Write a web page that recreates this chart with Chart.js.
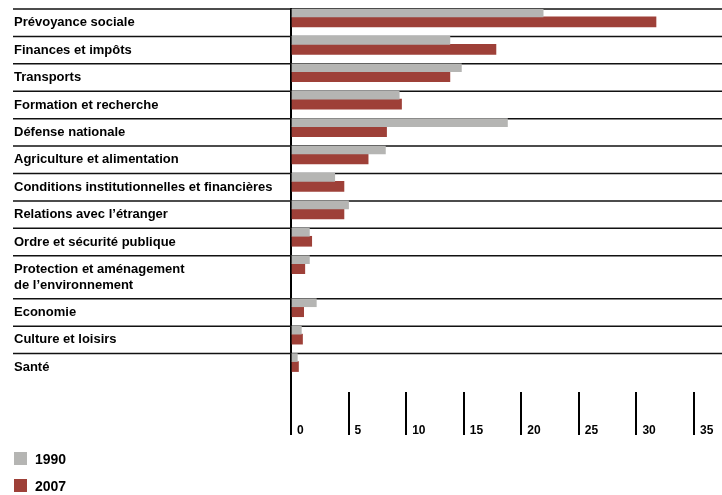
<!DOCTYPE html>
<html>
<head>
<meta charset="utf-8">
<script src="https://cdn.jsdelivr.net/npm/chart.js@4.4.1/dist/chart.umd.min.js"></script>
<style>
    html, body { margin: 0; padding: 0; background: #fff; }
    #wrap { position: relative; width: 722px; height: 495px; }
    #legend { position: absolute; left: 14px; top: 445px; font: bold 14px "Liberation Sans Narrow", "Liberation Sans", sans-serif; color: #000; }
    #legend div { height: 27px; display: flex; align-items: center; }
    #legend span.box { display: inline-block; width: 13px; height: 13px; margin-right: 8px; }
</style>
</head>
<body>
<div id="wrap">
    <canvas id="chartBudget" width="722" height="495"></canvas>
    <div id="legend"></div>
</div>
<script>
const categories = [
    'Prévoyance sociale',
    'Finances et impôts',
    'Transports',
    'Formation et recherche',
    'Défense nationale',
    'Agriculture et alimentation',
    'Conditions institutionnelles et financières',
    'Relations avec l’étranger',
    'Ordre et sécurité publique',
    ['Protection et aménagement', 'de l’environnement'],
    'Economie',
    'Culture et loisirs',
    'Santé'
];
const years = ['1990', '2007'];
const values1990 = [21.9, 13.8, 14.8, 9.4, 18.8, 8.2, 3.8, 5.0, 1.6, 1.6, 2.2, 0.9, 0.55];
const values2007 = [31.7, 17.8, 13.8, 9.6, 8.3, 6.7, 4.6, 4.6, 1.8, 1.2, 1.1, 1.0, 0.65];
const xTicks = [0, 5, 10, 15, 20, 25, 30, 35];

const GREY = '#b5b5b3';
const RED = '#9e4038';
const FONT = '"Liberation Sans Narrow", "Liberation Sans", sans-serif';

// category scale whose rows grow with the number of label lines
class RowScale extends Chart.CategoryScale {
    rows() {
        const weights = this.getLabels().map(l => Array.isArray(l) ? 1 + 0.57 * (l.length - 1) : 1);
        const total = weights.reduce((a, b) => a + b, 0) + 0.4;
        const unit = (this.bottom - this.top) / total;
        let y = this.top;
        return weights.map(w => {
            const r = { top: y, height: w * unit, unit: unit };
            y += w * unit;
            return r;
        });
    }
    getPixelForValue(value) {
        if (typeof value !== 'number') value = this.parse(value);
        const r = this.rows()[value];
        return r ? r.top + r.unit * 0.29 : NaN;
    }
    getPixelForTick(index) {
        const r = this.rows()[this.ticks[index].value];
        return r.top + r.height / 2;
    }
}
RowScale.id = 'rows';
RowScale.defaults = Chart.CategoryScale.defaults;
Chart.register(RowScale);

// horizontal separators running under the labels and across the plot
const rowLines = {
    id: 'rowLines',
    beforeDatasetsDraw(chart) {
        const ctx = chart.ctx;
        const rows = chart.scales.y.rows();
        ctx.save();
        ctx.strokeStyle = '#111';
        ctx.lineWidth = 1.5;
        rows.forEach(r => {
            ctx.beginPath();
            ctx.moveTo(13, r.top);
            ctx.lineTo(chart.width, r.top);
            ctx.stroke();
        });
        ctx.restore();
    }
};

const ctxBudget = document.getElementById('chartBudget').getContext('2d');
const budgetChart = new Chart(ctxBudget, {
    type: 'bar',
    data: {
        labels: categories,
        datasets: [{
            label: years[0],
            data: values1990,
            backgroundColor: GREY,
            barThickness: 8
        }, {
            label: years[1],
            data: values2007,
            backgroundColor: RED,
            barThickness: 10
        }]
    },
    options: {
        indexAxis: 'y',
        responsive: false,
        animation: false,
        events: [],
        layout: { padding: { left: 14, top: 9, right: 28, bottom: 0 } },
        plugins: {
            legend: { display: false },
            tooltip: { enabled: false }
        },
        scales: {
            x: {
                min: 0,
                max: 35,
                afterBuildTicks(scale) {
                    scale.ticks = xTicks.map(v => ({ value: v }));
                },
                ticks: {
                    align: 'start',
                    labelOffset: 6,
                    padding: -12,
                    color: '#000',
                    font: { family: FONT, size: 12, weight: 'bold' }
                },
                grid: { drawOnChartArea: false, drawTicks: true, tickLength: 43, color: '#000', lineWidth: 2 },
                border: { display: false },
                afterFit(scale) { scale.height = 103; }
            },
            y: {
                type: 'rows',
                grid: { display: false },
                border: { display: true, color: '#000', width: 2 },
                ticks: {
                    autoSkip: false,
                    crossAlign: 'far',
                    padding: 0,
                    color: '#000',
                    font: { family: FONT, size: 13, weight: 'bold', lineHeight: 1.2 }
                },
                afterFit(scale) { scale.width = 277; }
            }
        }
    },
    plugins: [rowLines]
});

// legend below the axis, one entry per line
const legendEl = document.getElementById('legend');
budgetChart.data.datasets.forEach(ds => {
    const item = document.createElement('div');
    item.innerHTML = '<span class="box" style="background:' + ds.backgroundColor + '"></span>' + ds.label;
    legendEl.appendChild(item);
});
</script>
</body>
</html>
